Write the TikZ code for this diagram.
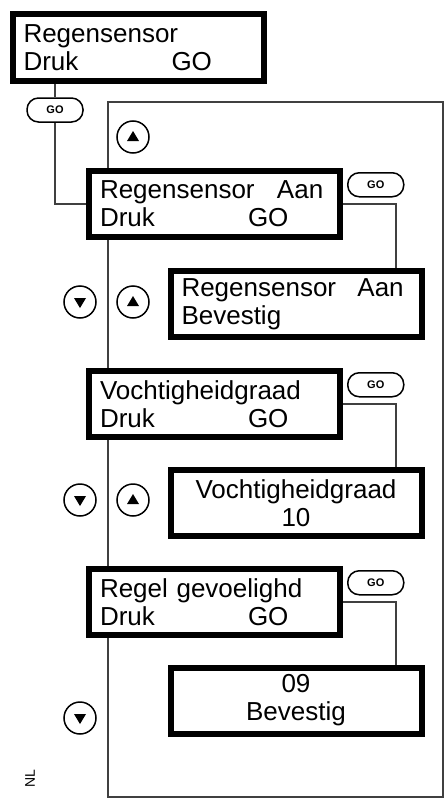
\documentclass[tikz,border=0pt]{standalone}
\usepackage{fontspec}
\setmainfont{Liberation Sans}
\usepackage{tikz}
\usetikzlibrary{positioning}
\tikzset{
    screen-box/.style = {draw, line width=6pt, fill=white, rectangle, minimum width=251pt, minimum height=66pt, inner xsep=11pt, text width=229pt, align=left, font=\fontsize{26}{28}\selectfont},
    screen-box-mid/.style = {screen-box, align=center},
    go-button/.style = {draw, line width=1.5pt, fill=white, rectangle, rounded corners=11.5pt, minimum width=56pt, minimum height=24pt, inner sep=0pt, font=\fontsize{11}{11}\selectfont\bfseries},
    nav-btn/.style = {draw, line width=1.5pt, fill=white, circle, minimum size=32pt, inner sep=0pt},
    nav-up/.style = {nav-btn, path picture={\fill[black] ([xshift=-6pt,yshift=-4pt]path picture bounding box.center) -- ++(12pt,0pt) -- ++(-6pt,10pt) -- cycle;}},
    nav-down/.style = {nav-btn, path picture={\fill[black] ([xshift=-6pt,yshift=4pt]path picture bounding box.center) -- ++(12pt,0pt) -- ++(-6pt,-10pt) -- cycle;}},
    link/.style = {draw=black!75, line width=1.1pt},
}

\begin{document}
\begin{tikzpicture}[x=1pt, y=-1pt]
\useasboundingbox (0,0) rectangle (445,800);
% menu frame
\draw[link] (108,102) rectangle (443,797);

\node[screen-box] (start) at (138,47.5) {Regensensor\\\makebox[148pt][l]{Druk}GO};
\node[go-button] (goStart) at (55,110) {GO};
\node[nav-up] (upTop) at (133,137) {};

% rain sensor on/off
\node[screen-box] (rainOn) at (214.5,204) {\makebox[177pt][l]{Regensensor}Aan\\\makebox[148pt][l]{Druk}GO};
\node[go-button, below right=4pt and 4pt of rainOn.north east] (goRain) {GO};
\node[screen-box] (rainOk) at (296,304) {\makebox[176pt][l]{Regensensor}Aan\\Bevestig};
\node[nav-down] (downA) at (80,302) {};
\node[nav-up] (upA) at (133,302) {};

% humidity level
\node[screen-box] (humid) at (214.5,404) {Vochtigheidgraad\\\makebox[148pt][l]{Druk}GO};
\node[go-button, below right=4pt and 4pt of humid.north east] (goHumid) {GO};
\node[screen-box-mid] (humidVal) at (296,503) {Vochtigheidgraad\\10};
\node[nav-down] (downB) at (80,500) {};
\node[nav-up] (upB) at (133,500) {};

% sensitivity
\node[screen-box] (sens) at (214.5,602) {Regel gevoelighd\\\makebox[148pt][l]{Druk}GO};
\node[go-button, below right=4pt and 4pt of sens.north east] (goSens) {GO};
\node[screen-box-mid] (sensVal) at (296,700.5) {09\\Bevestig};
\node[nav-down] (downC) at (80,718) {};

\node[rotate=90, font=\fontsize{14}{14}\selectfont] (lang) at (30,779) {NL};

% connectors
\draw[link] (goStart.north |- start.south) -- (goStart);
\draw[link] (goStart) |- (rainOn.west);
\draw[link] (rainOn.east) -| ([xshift=100pt]rainOk.north);
\draw[link] (humid.east) -| ([xshift=100pt]humidVal.north);
\draw[link] (sens.east) -| ([xshift=100pt]sensVal.north);
\end{tikzpicture}
\end{document}
